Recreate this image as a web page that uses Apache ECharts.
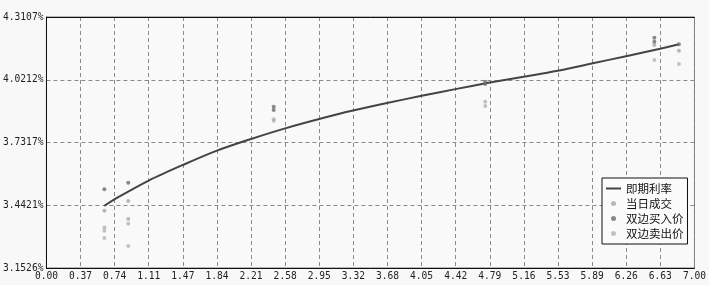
<!DOCTYPE html>
<html><head><meta charset="utf-8">
<script src="https://cdn.jsdelivr.net/npm/echarts@6/dist/echarts.min.js"></script>
<style>html,body{margin:0;padding:0;background:#f8f8f8}#c{width:709px;height:285px}</style>
</head><body><div id="c"></div>
<script>
const xTickLabels = ['0.00','0.37','0.74','1.11','1.47','1.84','2.21','2.58','2.95','3.32','3.68','4.05','4.42','4.79','5.16','5.53','5.89','6.26','6.63','7.00'];
const yTickLabels = ['3.1526%','3.4421%','3.7317%','4.0212%','4.3107%'];
const seriesNames = ['即期利率','当日成交','双边买入价','双边卖出价'];

const curveX = [0.626,0.742,1.11,1.474,1.842,2.211,2.579,2.947,3.311,3.679,4.053,4.417,4.774,5.155,5.523,5.89,6.261,6.629,6.832];
const curveY = [3.439,3.471,3.557,3.628,3.694,3.748,3.797,3.840,3.879,3.914,3.947,3.978,4.007,4.035,4.063,4.096,4.130,4.164,4.185];

const tradeX = [0.626,0.884,0.884,6.567,6.832];
const tradeY = [3.417,3.462,3.379,4.182,4.155];

const bidX = [0.626,0.884,2.455,2.455,4.740,4.740,6.567,6.567,6.832];
const bidY = [3.516,3.546,3.897,3.882,4.012,4.002,4.215,4.197,4.185];

const askX = [0.626,0.626,0.626,0.884,0.884,2.455,2.455,4.740,4.740,6.567,6.832];
const askY = [3.339,3.325,3.291,3.357,3.254,3.839,3.832,3.920,3.900,4.112,4.094];

const xMin = 0, xMax = 7, yMin = 3.1526, yMax = 4.3107;
const pairs = (xs, ys) => xs.map((x, i) => [x, ys[i]]);
const mono = 'DejaVu Sans Mono';
const cjk = '"Noto Sans CJK SC"';
const xStep = (xMax - xMin) / (xTickLabels.length - 1);
const yStep = (yMax - yMin) / (yTickLabels.length - 1);

const chart = echarts.init(document.getElementById('c'), null, {renderer: 'canvas'});
chart.setOption({
  backgroundColor: '#f8f8f8',
  animation: false,
  grid: {left: 44, top: 17, right: 11, bottom: 17, show: true, borderColor: '#777', borderWidth: 1, backgroundColor: '#f9f9f9'},
  legend: {
    orient: 'vertical', left: 602, top: 178,
    padding: [3, 4, 3, 4], itemGap: 0,
    itemWidth: 15, itemHeight: 5,
    backgroundColor: '#fbfbfb', borderColor: '#111', borderWidth: 1,
    textStyle: {fontFamily: cjk, fontSize: 11.5, color: '#111', lineHeight: 15},
    data: [
      {name: seriesNames[0], icon: 'path://M0,0H30V4H0Z', itemStyle: {color: '#444'}},
      {name: seriesNames[1], icon: 'circle'},
      {name: seriesNames[2], icon: 'circle'},
      {name: seriesNames[3], icon: 'circle'}
    ]
  },
  xAxis: [{
    type: 'value', min: xMin, max: xMax, interval: xStep,
    axisLine: {show: true, onZero: false, lineStyle: {color: '#111', width: 1}},
    axisTick: {show: false},
    axisLabel: {
      fontFamily: mono, fontSize: 9.6, color: '#222', margin: 3,
      formatter: v => xTickLabels[Math.round((v - xMin) / xStep)]
    },
    splitLine: {show: true, lineStyle: {type: [4, 3], color: '#8a8a8a', width: 1}}
  }, {
    type: 'value', position: 'top', min: xMin, max: xMax,
    axisLine: {show: true, onZero: false, lineStyle: {color: '#111', width: 1}},
    axisTick: {show: false}, axisLabel: {show: false}, splitLine: {show: false}
  }],
  yAxis: {
    type: 'value', min: yMin, max: yMax, interval: yStep,
    axisLine: {show: true, onZero: false, lineStyle: {color: '#111', width: 1}},
    axisTick: {show: false},
    axisLabel: {
      fontFamily: mono, fontSize: 9.6, color: '#222', margin: 3,
      formatter: v => yTickLabels[Math.round((v - yMin) / yStep)]
    },
    splitLine: {show: true, lineStyle: {type: [4, 3], color: '#8a8a8a', width: 1}}
  },
  series: [
    {name: seriesNames[0], type: 'line', data: pairs(curveX, curveY), smooth: 0.3, symbol: 'none',
     lineStyle: {color: '#444', width: 2}, itemStyle: {color: '#444'}, z: 3},
    {name: seriesNames[1], type: 'scatter', data: pairs(tradeX, tradeY), symbolSize: 4,
     itemStyle: {color: '#a8a8a8'}, z: 4},
    {name: seriesNames[2], type: 'scatter', data: pairs(bidX, bidY), symbolSize: 4,
     itemStyle: {color: '#6c6c6c'}, z: 4},
    {name: seriesNames[3], type: 'scatter', data: pairs(askX, askY), symbolSize: 4,
     itemStyle: {color: '#b4b4b4'}, z: 4}
  ]
});
</script></body></html>
